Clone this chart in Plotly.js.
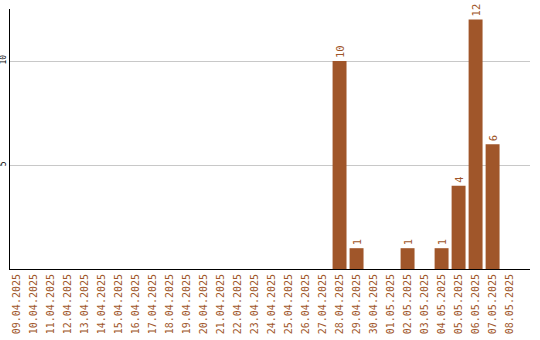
<!DOCTYPE html>
<html>
<head>
<meta charset="utf-8">
<script src="https://cdn.plot.ly/plotly-3.0.1.min.js"></script>
<style>
  html, body { margin: 0; padding: 0; background: #fff; }
  #chart { width: 540px; height: 340px; }
</style>
</head>
<body>
<div id="chart"></div>
<script>
// Daily counts, 09.04.2025 – 08.05.2025
const dates = [
  "09.04.2025", "10.04.2025", "11.04.2025", "12.04.2025", "13.04.2025",
  "14.04.2025", "15.04.2025", "16.04.2025", "17.04.2025", "18.04.2025",
  "19.04.2025", "20.04.2025", "21.04.2025", "22.04.2025", "23.04.2025",
  "24.04.2025", "25.04.2025", "26.04.2025", "27.04.2025", "28.04.2025",
  "29.04.2025", "30.04.2025", "01.05.2025", "02.05.2025", "03.05.2025",
  "04.05.2025", "05.05.2025", "06.05.2025", "07.05.2025", "08.05.2025"
];
const counts = [
  0, 0, 0, 0, 0,
  0, 0, 0, 0, 0,
  0, 0, 0, 0, 0,
  0, 0, 0, 0, 10,
  1, 0, 0, 1, 0,
  1, 4, 12, 6, 0
];
const yTicks = [5, 10];

const brown = "#a0562a";
const mono = "DejaVu Sans Mono, monospace";

const trace = {
  type: "bar",
  x: dates,
  y: counts,
  marker: { color: brown },
  text: counts.map(v => (v ? String(v) : "")),
  textposition: "outside",
  textangle: -90,
  constraintext: "none",
  cliponaxis: false,
  textfont: { family: mono, size: 10.5, color: brown },
  hoverinfo: "x+y"
};

const layout = {
  width: 540,
  height: 340,
  margin: { l: 10, r: 10, t: 9, b: 71 },
  paper_bgcolor: "#ffffff",
  plot_bgcolor: "#ffffff",
  showlegend: false,
  bargap: 0.18,
  xaxis: {
    type: "category",
    range: [-0.38, 30.2],
    tickangle: -90,
    tickfont: { family: mono, size: 10, color: brown },
    ticks: "",
    showgrid: false,
    showline: true,
    linecolor: "#000000",
    linewidth: 1,
    zeroline: false,
    fixedrange: true
  },
  yaxis: {
    range: [0, 12.5],
    tickvals: yTicks,
    ticktext: yTicks.map(String),
    tickangle: -90,
    tickfont: { family: mono, size: 8, color: "#000000" },
    ticks: "",
    showgrid: true,
    gridcolor: "#c8c8c8",
    gridwidth: 1,
    showline: true,
    linecolor: "#000000",
    linewidth: 1,
    zeroline: false,
    fixedrange: true
  }
};

Plotly.newPlot("chart", [trace], layout, { displayModeBar: false, staticPlot: true });
</script>
</body>
</html>
